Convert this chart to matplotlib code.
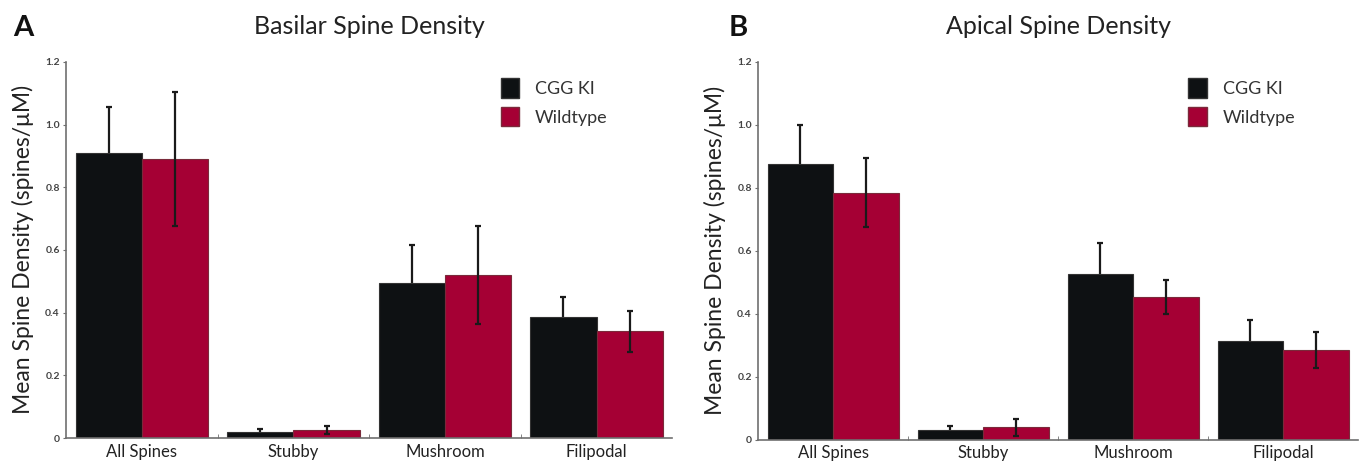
import numpy as np
import matplotlib
matplotlib.use('Agg')
import matplotlib.pyplot as plt
from matplotlib.patches import Patch

plt.rcParams['font.family'] = ['Lato', 'DejaVu Sans']

categories = ['All Spines', 'Stubby', 'Mushroom', 'Filipodal']
series = ['CGG KI', 'Wildtype']

basilar_cgg = [0.91, 0.02, 0.495, 0.385]
basilar_cgg_err = [0.145, 0.010, 0.120, 0.065]
basilar_wt = [0.89, 0.025, 0.52, 0.34]
basilar_wt_err = [0.215, 0.012, 0.157, 0.065]

apical_cgg = [0.875, 0.03, 0.525, 0.315]
apical_cgg_err = [0.125, 0.015, 0.100, 0.065]
apical_wt = [0.785, 0.04, 0.455, 0.285]
apical_wt_err = [0.110, 0.027, 0.054, 0.058]

yticks = [0, 0.2, 0.4, 0.6, 0.8, 1.0, 1.2]
ytick_labels = ['0', '0.2', '0.4', '0.6', '0.8', '1.0', '1.2']

BLACK = '#0e1113'
RED = '#a50034'
AXIS = '#6f6f6f'

fig = plt.figure(figsize=(13.61, 4.72), dpi=100, facecolor='white')
ax_a = fig.add_axes([0.0485, 0.072, 0.4455, 0.797])
ax_b = fig.add_axes([0.557, 0.068, 0.441, 0.801])


def draw_panel(ax, cgg, cgg_err, wt, wt_err, title, letter, letter_x):
    x = np.arange(len(categories))
    w = 0.437
    # black bars' error bars sit behind the bar, so only the upper half shows
    ax.bar(x - w / 2, cgg, w, color=BLACK, edgecolor='#333333', linewidth=0.8,
           yerr=cgg_err, error_kw=dict(ecolor='#1a1a1a', elinewidth=1.6,
                                       capsize=2, capthick=1.6, zorder=1),
           zorder=2)
    ax.bar(x + w / 2, wt, w, color=RED, edgecolor='#7a2a3a', linewidth=0.8,
           yerr=wt_err, error_kw=dict(ecolor='#1a1a1a', elinewidth=1.6,
                                      capsize=2, capthick=1.6, zorder=3),
           zorder=2)
    ax.set_xlim(-0.5, len(categories) - 0.5)
    ax.set_ylim(0, 1.2)
    ax.set_yticks(yticks)
    ax.set_yticklabels(ytick_labels, fontsize=7.5, color='#444444',
                       fontweight='bold')
    ax.set_xticks(x)
    ax.set_xticklabels(categories, fontsize=12, color='#222222')
    ax.set_xticks(np.arange(0.5, len(categories) - 0.5, 1.0), minor=True)
    ax.tick_params(axis='x', which='major', length=0, pad=4)
    ax.tick_params(axis='x', which='minor', length=3, color=AXIS, direction='in')
    ax.tick_params(axis='y', length=2.5, width=0.8, color=AXIS, pad=2)
    for s in ['top', 'right']:
        ax.spines[s].set_visible(False)
    for s in ['left', 'bottom']:
        ax.spines[s].set_color(AXIS)
        ax.spines[s].set_linewidth(1.2)
    ax.set_ylabel('Mean Spine Density (spines/\u03bcM)', fontsize=16.5,
                  color='#222222', labelpad=8)
    ax.set_title(title, fontsize=18, color='#222222', pad=20)
    fig.text(letter_x, 0.94, letter, fontsize=21, color='#111111',
             ha='left', va='center', fontweight='bold')
    handles = [Patch(facecolor=BLACK, edgecolor='#333333'),
               Patch(facecolor=RED, edgecolor='#7a2a3a')]
    ax.legend(handles, series, loc='upper left', bbox_to_anchor=(0.69, 1.0),
              frameon=False, fontsize=13, handlelength=1.0, handleheight=1.3,
              handletextpad=0.9, labelspacing=0.5, labelcolor='#333333')


draw_panel(ax_a, basilar_cgg, basilar_cgg_err, basilar_wt, basilar_wt_err,
           'Basilar Spine Density', 'A', 0.01)
draw_panel(ax_b, apical_cgg, apical_cgg_err, apical_wt, apical_wt_err,
           'Apical Spine Density', 'B', 0.535)

fig.savefig('out.png', dpi=100, facecolor='white')
